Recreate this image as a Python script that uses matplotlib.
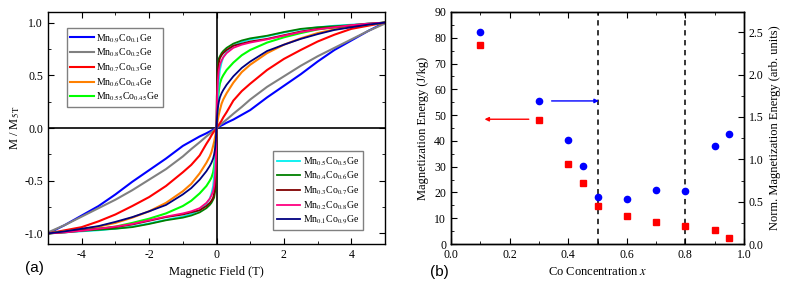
import numpy as np
import matplotlib
matplotlib.use("Agg")
import matplotlib.pyplot as plt
from matplotlib.ticker import MultipleLocator

plt.rcParams['font.family'] = ['Liberation Serif', 'DejaVu Serif']
plt.rcParams['mathtext.fontset'] = 'stix'
plt.rcParams['axes.unicode_minus'] = False

# panel (a): M/M5T vs field, positive branch (curves are odd-symmetric)
field_pos = [0, 0.01, 0.02, 0.04, 0.07, 0.1, 0.15, 0.2, 0.3, 0.5, 0.75, 1, 1.5, 2, 2.5, 3, 3.5, 4, 4.5, 5]
m_co01 = [0, .002, .004, .007, .012, .017, .025, .033, .05, .08, .125, .17, .29, .40, .51, .63, .74, .83, .92, 1.0]
m_co02 = [0, .003, .006, .011, .019, .027, .04, .054, .08, .135, .20, .27, .39, .49, .59, .68, .76, .84, .92, .99]
m_co03 = [0, .005, .01, .02, .033, .045, .07, .10, .15, .26, .35, .42, .55, .655, .74, .82, .885, .94, .97, 1.0]
m_co04 = [0, .02, .04, .08, .13, .17, .23, .27, .33, .43, .53, .60, .71, .79, .85, .90, .935, .96, .98, 1.0]
m_co045 = [0, .08, .15, .26, .36, .42, .47, .50, .55, .62, .69, .74, .81, .86, .90, .935, .955, .97, .985, 1.0]
m_co05 = [0, .07, .15, .28, .45, .55, .62, .67, .72, .78, .815, .84, .87, .905, .935, .955, .97, .98, .99, 1.0]
m_co06 = [0, .30, .45, .60, .66, .68, .71, .73, .76, .80, .83, .85, .875, .91, .94, .955, .965, .975, .99, 1.0]
m_co07 = [0, .30, .43, .56, .62, .66, .69, .71, .74, .78, .80, .82, .845, .88, .915, .94, .955, .97, .985, 1.0]
m_co08 = [0, .18, .30, .45, .55, .60, .64, .67, .71, .76, .79, .81, .84, .875, .91, .935, .955, .975, .99, 1.0]
m_co09 = [0, .07, .12, .19, .25, .29, .33, .36, .41, .49, .57, .63, .73, .79, .845, .89, .93, .955, .98, 1.0]

labels1 = [r'Mn$_{0.9}$Co$_{0.1}$Ge', r'Mn$_{0.8}$Co$_{0.2}$Ge', r'Mn$_{0.7}$Co$_{0.3}$Ge',
           r'Mn$_{0.6}$Co$_{0.4}$Ge', r'Mn$_{0.55}$Co$_{0.45}$Ge']
labels2 = [r'Mn$_{0.5}$Co$_{0.5}$Ge', r'Mn$_{0.4}$Co$_{0.6}$Ge', r'Mn$_{0.3}$Co$_{0.7}$Ge',
           r'Mn$_{0.2}$Co$_{0.8}$Ge', r'Mn$_{0.1}$Co$_{0.9}$Ge']
colors1 = ['#0000ff', '#808080', '#ff0000', '#ff8000', '#00ff00']
colors2 = ['#00f0f0', '#008000', '#800000', '#ff0080', '#000080']

# panel (b)
co_x = [0.1, 0.3, 0.4, 0.45, 0.5, 0.6, 0.7, 0.8, 0.9, 0.95]
energy = [77.2, 48.0, 31.0, 23.7, 14.9, 10.7, 8.4, 6.9, 5.6, 2.5]
norm_energy = [2.50, 1.69, 1.23, 0.92, 0.55, 0.53, 0.64, 0.63, 1.16, 1.30]


def full(m):
    h = np.array(field_pos)
    m = np.array(m)
    return np.concatenate([-h[::-1], h[1:]]), np.concatenate([-m[::-1], m[1:]])


fig = plt.figure(figsize=(7.88, 2.87), dpi=100)
ax1 = fig.add_axes([0.0609, 0.1498, 0.4277, 0.8084])
ax2 = fig.add_axes([0.5723, 0.1498, 0.3719, 0.8084])

ax1.axhline(0, color='black', lw=1.2, zorder=1)
ax1.axvline(0, color='black', lw=1.2, zorder=1)

h1 = []
for m, c, l in zip([m_co01, m_co02, m_co03, m_co04, m_co045], colors1, labels1):
    hx, my = full(m)
    h1.append(ax1.plot(hx, my, color=c, lw=1.5, label=l)[0])
h2 = []
for m, c, l in zip([m_co05, m_co06, m_co07, m_co08, m_co09], colors2, labels2):
    hx, my = full(m)
    h2.append(ax1.plot(hx, my, color=c, lw=1.3, label=l)[0])

legkw = dict(fontsize=7, fancybox=False, edgecolor='gray', framealpha=1, handlelength=2.4,
             handletextpad=0.25, borderpad=0.4, labelspacing=0.22, borderaxespad=0)
leg1 = ax1.legend(handles=h1, loc='upper left', bbox_to_anchor=(0.055, 0.93), **legkw)
ax1.add_artist(leg1)
ax1.legend(handles=h2, loc='lower right', bbox_to_anchor=(0.935, 0.06), **legkw)

ax1.set_xlim(-5, 5)
ax1.set_ylim(-1.1, 1.1)
ax1.xaxis.set_major_locator(MultipleLocator(2))
ax1.xaxis.set_minor_locator(MultipleLocator(1))
ax1.yaxis.set_major_locator(MultipleLocator(0.5))
ax1.yaxis.set_minor_locator(MultipleLocator(0.25))
ax1.set_xlabel('Magnetic Field (T)', fontsize=9)
ax1.set_ylabel(r'M / M$_{5\,\mathrm{T}}$', fontsize=9, labelpad=2)

ax2.axvline(0.5, color='black', ls='--', lw=1.1, dashes=(3.5, 3))
ax2.axvline(0.8, color='black', ls='--', lw=1.1, dashes=(3.5, 3))
ax2.plot(co_x, energy, 's', color='#ff0000', ms=4, zorder=3)
ax2.annotate('', xy=(0.105, 48.4), xytext=(0.275, 48.4),
             arrowprops=dict(arrowstyle='-|>', color='#ff0000', lw=1, mutation_scale=6))
ax2.annotate('', xy=(0.514, 55.5), xytext=(0.334, 55.5),
             arrowprops=dict(arrowstyle='-|>', color='#0000ff', lw=1, mutation_scale=6))
ax2.set_xlim(0, 1)
ax2.set_ylim(0, 90)
ax2.xaxis.set_major_locator(MultipleLocator(0.2))
ax2.xaxis.set_minor_locator(MultipleLocator(0.1))
ax2.yaxis.set_major_locator(MultipleLocator(10))
ax2.yaxis.set_minor_locator(MultipleLocator(5))
ax2.set_xlabel(r'Co Concentration $x$', fontsize=9)
ax2.set_ylabel('Magnetization Energy (J/kg)', fontsize=9)

ax3 = ax2.twinx()
ax3.plot(co_x, norm_energy, 'o', color='#0000ff', ms=4.5, zorder=3)
ax3.set_ylim(0, 2.74)
ax3.yaxis.set_major_locator(MultipleLocator(0.5))
ax3.yaxis.set_minor_locator(MultipleLocator(0.25))
ax3.set_ylabel('Norm. Magnetization Energy (arb. units)', fontsize=9)
ax3.tick_params(axis='y', which='both', direction='in', labelsize=8.5)
ax3.tick_params(axis='y', which='major', length=4)
ax3.tick_params(axis='y', which='minor', length=2)

for ax in (ax1, ax2):
    ax.tick_params(which='both', direction='in', top=True, labelsize=8.5)
    ax.tick_params(which='major', length=4)
    ax.tick_params(which='minor', length=2)
ax1.tick_params(which='both', right=True)

for ax in (ax1, ax2, ax3):
    for s in ax.spines.values():
        s.set_linewidth(1.0)
        s.set_color('black')

fig.text(0.044, 0.066, '(a)', fontsize=11, family='Liberation Sans', ha='center', va='center')
fig.text(0.557, 0.052, '(b)', fontsize=11, family='Liberation Sans', ha='center', va='center')

fig.savefig('out.png', dpi=100)
